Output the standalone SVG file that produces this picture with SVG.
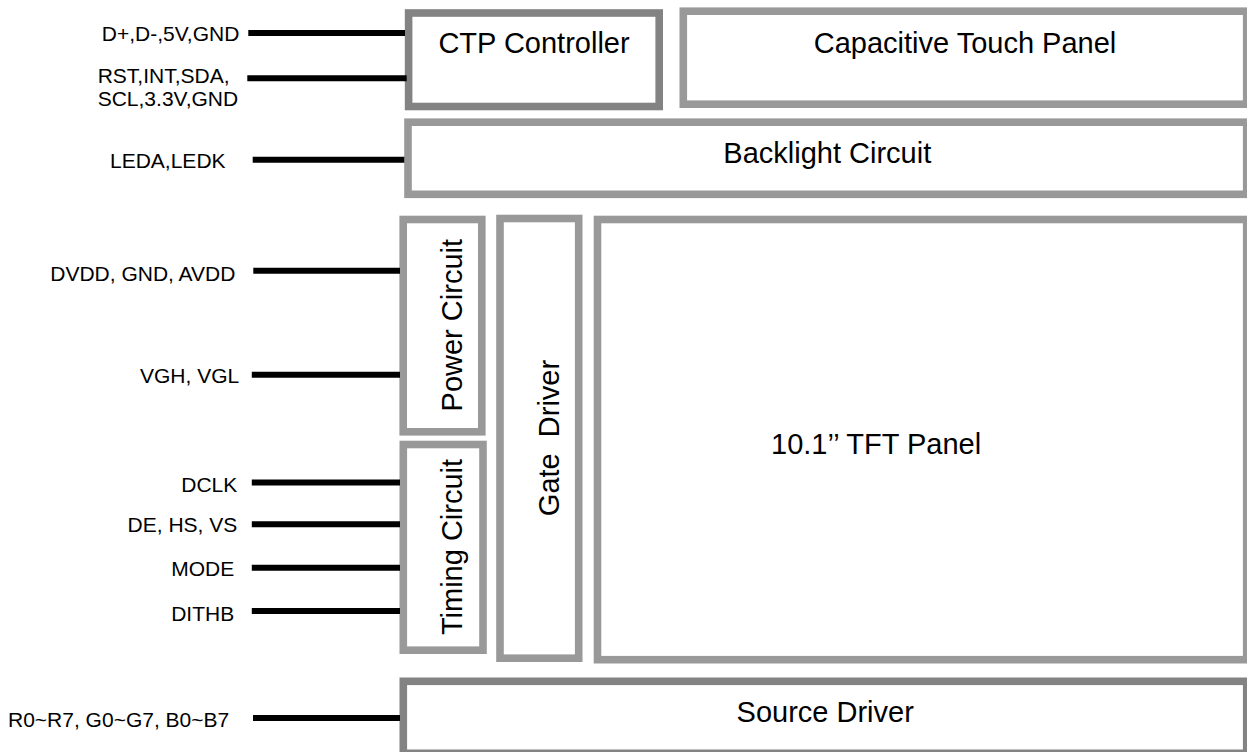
<svg xmlns="http://www.w3.org/2000/svg" width="1247" height="752" viewBox="0 0 1247 752">
<style>
  .box { fill: #ffffff; stroke: #999999; stroke-width: 7.6; }
  .dark { stroke: #838383; }
  .lbl { font-family: "Liberation Sans", Arial, sans-serif; font-size: 29px; fill: #000000; }
  .pin { font-family: "Liberation Sans", Arial, sans-serif; font-size: 21px; fill: #000000; }
  .wire { stroke: #000000; stroke-width: 6; fill: none; }
</style>
<rect width="1247" height="752" fill="#ffffff"/>

<g id="ctp-controller">
  <rect class="box dark" x="408.6" y="13" width="250.6" height="93.5"/>
  <text class="lbl" x="534" y="53.3" text-anchor="middle">CTP Controller</text>
</g>
<g id="capacitive-touch-panel">
  <rect class="box" x="683.3" y="11.2" width="563.4" height="93"/>
  <text class="lbl" x="965" y="52.5" text-anchor="middle">Capacitive Touch Panel</text>
</g>
<g id="backlight-circuit">
  <rect class="box" x="408" y="122.2" width="838.7" height="72.1"/>
  <text class="lbl" x="827.3" y="163.3" text-anchor="middle">Backlight Circuit</text>
</g>
<g id="power-circuit">
  <rect class="box" x="403.2" y="219.5" width="78.6" height="212.3"/>
  <text class="lbl" transform="translate(461.5,325.2) rotate(-90)" text-anchor="middle">Power Circuit</text>
</g>
<g id="timing-circuit">
  <rect class="box" x="403.3" y="444.5" width="79.7" height="205.7"/>
  <text class="lbl" transform="translate(461.5,547) rotate(-90)" text-anchor="middle">Timing Circuit</text>
</g>
<g id="gate-driver">
  <rect class="box" x="500" y="218.5" width="78.7" height="439.7"/>
  <text class="lbl" transform="translate(558.5,438) rotate(-90)" text-anchor="middle" xml:space="preserve">Gate  Driver</text>
</g>
<g id="tft-panel">
  <rect class="box" x="597.5" y="219.5" width="649.2" height="440.2"/>
  <text class="lbl" x="771" y="454">10.1’’ TFT Panel</text>
</g>
<g id="source-driver">
  <rect class="box dark" x="403.3" y="681.3" width="843.4" height="72"/>
  <text class="lbl" x="825.2" y="721.7" text-anchor="middle">Source Driver</text>
</g>

<g id="connectors">
  <line class="wire" x1="248.3" y1="33" x2="405" y2="33"/>
  <line class="wire" x1="247.3" y1="78.3" x2="406.7" y2="78.3"/>
  <line class="wire" x1="252.7" y1="159.7" x2="404.3" y2="159.7"/>
  <line class="wire" x1="253.3" y1="270.8" x2="400" y2="270.8"/>
  <line class="wire" x1="251.8" y1="374.7" x2="400" y2="374.7"/>
  <line class="wire" x1="251.8" y1="482.5" x2="400" y2="482.5"/>
  <line class="wire" x1="251.8" y1="524.3" x2="400" y2="524.3"/>
  <line class="wire" x1="251.8" y1="567.7" x2="400" y2="567.7"/>
  <line class="wire" x1="251.8" y1="611" x2="400" y2="611"/>
  <line class="wire" x1="253" y1="718" x2="400" y2="718"/>
</g>

<g id="pin-labels">
  <text class="pin" x="239.3" y="40.8" text-anchor="end">D+,D-,5V,GND</text>
  <text class="pin" x="97.7" y="83.3">RST,INT,SDA,</text>
  <text class="pin" x="97.7" y="105.7">SCL,3.3V,GND</text>
  <text class="pin" x="110" y="167.5">LEDA,LEDK</text>
  <text class="pin" x="235.4" y="280.5" text-anchor="end">DVDD, GND, AVDD</text>
  <text class="pin" x="239.2" y="382.7" text-anchor="end">VGH, VGL</text>
  <text class="pin" x="237.3" y="491.7" text-anchor="end">DCLK</text>
  <text class="pin" x="237.3" y="531.7" text-anchor="end">DE, HS, VS</text>
  <text class="pin" x="234.2" y="575.7" text-anchor="end">MODE</text>
  <text class="pin" x="234.2" y="620.7" text-anchor="end">DITHB</text>
  <text class="pin" x="8" y="727.3">R0~R7, G0~G7, B0~B7</text>
</g>
</svg>
